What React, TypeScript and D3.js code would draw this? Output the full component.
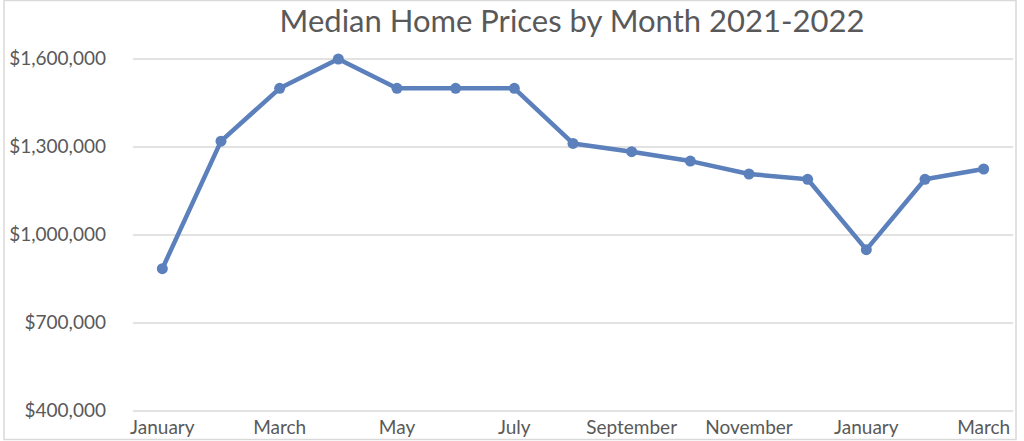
import React from 'react'
import * as d3 from 'd3'

const months = ['Jan21', 'Feb21', 'Mar21', 'Apr21', 'May21', 'Jun21', 'Jul21', 'Aug21', 'Sep21', 'Oct21', 'Nov21', 'Dec21', 'Jan22', 'Feb22', 'Mar22']
const monthLabels = ['January', '', 'March', '', 'May', '', 'July', '', 'September', '', 'November', '', 'January', '', 'March']
const prices = [885000, 1320000, 1500000, 1600000, 1500000, 1500000, 1500000, 1312000, 1284000, 1252000, 1208000, 1190000, 950000, 1190000, 1225000]
const yTicks = [400000, 700000, 1000000, 1300000, 1600000]

const W = 1024
const H = 441
const font = 'Lato, "Open Sans", sans-serif'
const blue = '#5b80bb'

export default function App() {
  const x = d3.scaleBand().domain(months).range([133, 1013])
  const y = d3.scaleLinear().domain([400000, 1600000]).range([411, 59])
  const line = d3.line<number>()
    .x((d, i) => x(months[i])! + x.bandwidth() / 2)
    .y(d => y(d))
  const fmt = d3.format('$,')

  return (
    <svg width={W} height={H} style={{position: 'absolute', left: 0, top: 0, background: '#fff'}}>
      <rect x={4} y={0.5} width={1012} height={439} fill="#fff" stroke="#d9d9d9" strokeWidth={1.5} />
      <text x={572} y={32} textAnchor="middle" fontFamily={font} fontSize={31} fill="#595959">
        Median Home Prices by Month 2021-2022
      </text>
      {yTicks.map(t => (
        <g key={t}>
          <line x1={133} x2={1013} y1={y(t)} y2={y(t)} stroke="#d9d9d9" strokeWidth={1.5} />
          <text x={106} y={y(t) + 6} textAnchor="end" fontFamily={font} fontSize={19} fill="#595959">{fmt(t)}</text>
        </g>
      ))}
      {months.map((m, i) => monthLabels[i] ? (
        <text key={m} x={x(m)! + x.bandwidth() / 2} y={434} textAnchor="middle" fontFamily={font} fontSize={19} fill="#595959">
          {monthLabels[i]}
        </text>
      ) : null)}
      <path d={line(prices)!} fill="none" stroke={blue} strokeWidth={4.5} strokeLinejoin="round" />
      {prices.map((p, i) => (
        <circle key={i} cx={x(months[i])! + x.bandwidth() / 2} cy={y(p)} r={5.5} fill={blue} />
      ))}
    </svg>
  )
}
